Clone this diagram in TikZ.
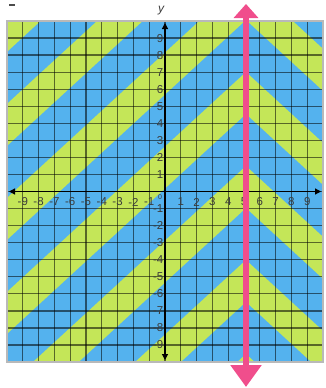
\documentclass[tikz,border=0pt]{standalone}
\usepackage{fontspec}
\setmainfont{Liberation Sans}
\usetikzlibrary{arrows.meta}
\definecolor{stripeG}{RGB}{196,230,88}
\definecolor{stripeB}{RGB}{84,178,238}
\definecolor{pinkL}{RGB}{240,78,140}
\definecolor{labelC}{RGB}{60,60,60}
\tikzset{
  gridline/.style={black, opacity=0.55, line width=1.3pt},
  axisline/.style={black, line width=1.2pt, {Triangle[length=6pt,width=6pt]}-{Triangle[length=6pt,width=6pt]}},
  ticklab/.style={labelC, inner sep=0pt, font=\fontsize{11.5}{11.5}\selectfont},
  pinkarrow/.style={pinkL, line width=5.5pt, {Triangle[length=14pt,width=24pt]}-{Triangle[length=22pt,width=30pt]}}
}
\begin{document}
\begin{tikzpicture}[x=1pt,y=-1pt]
\useasboundingbox (0,0) rectangle (325,388);
% background blue
\fill[stripeB] (7,21) rectangle (323,362);
% green chevron stripes
\begin{scope}
\clip (7,21) rectangle (323,362);
\foreach \T in {-210,-116,...,354} {
  \fill[stripeG] (7,{\T+0.92*239}) -- (246,\T) -- (323,{\T+0.92*77})
     -- (323,{\T+42+0.92*77}) -- (246,{\T+42}) -- (7,{\T+42+0.92*239}) -- cycle;
}
\end{scope}
% grid
\foreach \i in {1,...,19} {
  \draw[gridline] ({7+15.8*\i},21) -- ({7+15.8*\i},362);
  \draw[gridline] (7,{21+17.05*\i}) -- (323,{21+17.05*\i});
}
\draw[gray!55, line width=1.8pt] (7,21) rectangle (323,362);
% axes
\coordinate (xl) at (9,191.5);
\coordinate (xr) at (321,191.5);
\coordinate (yt) at (165,23);
\coordinate (yb) at (165,360);
\draw[axisline] (xl) -- (xr);
\draw[axisline] (yt) -- (yb);
% tick labels
\foreach \i in {1,...,9} {
  \node[ticklab] (xp\i) at ({165+15.8*\i},202) {\i};
  \node[ticklab] (xn\i) at ({165-15.8*\i},202) {-\i};
  \node[ticklab, anchor=east] (yp\i) at (163.5,{191.5-17.05*\i}) {\i};
  \node[ticklab, anchor=east] (yn\i) at (163.5,{191.5+17.05*\i}) {-\i};
}
\node[labelC, inner sep=0pt, font=\fontsize{7}{7}\selectfont] (orig) at (160,197) {0};
\node[labelC, inner sep=0pt, font=\itshape\fontsize{12}{12}\selectfont] (ylab) at (161,11) {y};
% small mark top left
\coordinate (m1) at (9,5);
\coordinate (m2) at (15,5);
\draw[black!70, line width=1.2pt] (m1) -- (m2);
% pink vertical line x = 5
\coordinate (pt) at (246,4);
\coordinate (pb) at (246,387);
\draw[pinkarrow] (pt) -- (pb);
\end{tikzpicture}
\end{document}
